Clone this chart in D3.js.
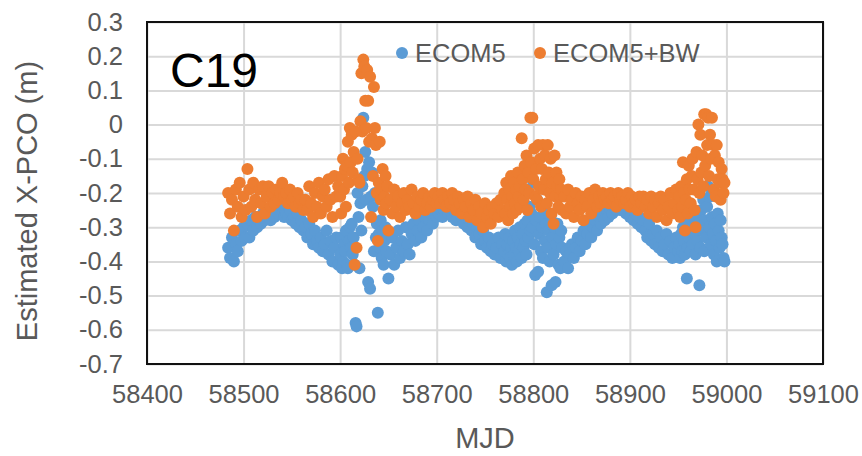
<!DOCTYPE html>
<html>
<head>
<meta charset="utf-8">
<script src="https://cdn.jsdelivr.net/npm/d3@7"></script>
<style>
  body { margin: 0; background: #fff; }
  svg { display: block; font-family: "Liberation Sans", Arial, sans-serif; }
</style>
</head>
<body>
<script>
// Chart values
var mjd = [
  // every 2 days
  58484, 58486, 58488, 58490, 58492, 58494, 58496, 58498, 58500, 58502,
  58504, 58506, 58508, 58510, 58512, 58514, 58516, 58518, 58520, 58522,
  58524, 58526, 58528, 58530, 58532, 58534, 58536, 58538, 58540, 58542,
  58544, 58546, 58548, 58550, 58552, 58554, 58556, 58558, 58560, 58562,
  58564, 58566, 58568, 58570, 58572, 58574, 58576, 58578, 58580, 58582,
  58584, 58586, 58588, 58590, 58592, 58594, 58596, 58598,
  // daily, first spike
  58600, 58601, 58602, 58603, 58604, 58605, 58606, 58607, 58608, 58609,
  58610, 58611, 58612, 58613, 58614, 58615, 58616, 58617, 58618, 58619,
  58620, 58621, 58622, 58623, 58624, 58625, 58626, 58627, 58628, 58629,
  58630, 58631, 58632, 58633, 58634, 58635, 58636, 58637, 58638, 58639,
  58640, 58641, 58642, 58643, 58644, 58645, 58646, 58647, 58648, 58649,
  58650,
  58652, 58654, 58656, 58658, 58660, 58662, 58664, 58666, 58668, 58670,
  58672, 58674, 58676, 58678, 58680, 58682, 58684, 58686, 58688, 58690,
  58692, 58694, 58696, 58698, 58700,
  58702, 58704, 58706, 58708, 58710, 58712, 58714, 58716, 58718, 58720,
  58722, 58724, 58726, 58728, 58730, 58732, 58734, 58736, 58738, 58740,
  58742, 58744, 58746, 58748, 58750, 58752, 58754, 58756, 58758, 58760,
  58762, 58764, 58766, 58768,
  // daily, second spike
  58770, 58771, 58772, 58773, 58774, 58775, 58776, 58777, 58778, 58779,
  58780, 58781, 58782, 58783, 58784, 58785, 58786, 58787, 58788, 58789,
  58790, 58791, 58792, 58793, 58794, 58795, 58796, 58797, 58798, 58799,
  58800, 58801, 58802, 58803, 58804, 58805, 58806, 58807, 58808, 58809,
  58810, 58811, 58812, 58813, 58814, 58815, 58816, 58817, 58818, 58819,
  58820, 58821, 58822, 58823, 58824, 58825, 58826, 58827, 58828, 58829,
  58830,
  58832, 58834, 58836, 58838, 58840, 58842, 58844, 58846, 58848, 58850,
  58852, 58854, 58856, 58858, 58860, 58862, 58864, 58866, 58868, 58870,
  58872, 58874, 58876, 58878, 58880, 58882, 58884, 58886, 58888, 58890,
  58892, 58894, 58896, 58898, 58900, 58902, 58904, 58906, 58908, 58910,
  58912, 58914, 58916, 58918, 58920, 58922, 58924, 58926, 58928, 58930,
  58932, 58934, 58936, 58938, 58940, 58942, 58944, 58946, 58948, 58950,
  // daily, third spike
  58951, 58952, 58953, 58954, 58955, 58956, 58957, 58958, 58959, 58960,
  58961, 58962, 58963, 58964, 58965, 58966, 58967, 58968, 58969, 58970,
  58971, 58972, 58973, 58974, 58975, 58976, 58977, 58978, 58979, 58980,
  58981, 58982, 58983, 58984, 58985, 58986, 58987, 58988, 58989, 58990,
  58991, 58992, 58993, 58994, 58995, 58996, 58997, 58998
];

var ecom5 = [
  -0.36, -0.39, -0.33, -0.40, -0.35, -0.37, -0.31, -0.34, -0.30, -0.33,
  -0.29, -0.33, -0.28, -0.31, -0.27, -0.30, -0.28, -0.29, -0.26, -0.28,
  -0.27, -0.25, -0.28, -0.26, -0.27, -0.24, -0.26, -0.25, -0.24, -0.27,
  -0.26, -0.27, -0.25, -0.28, -0.27, -0.29, -0.26, -0.30, -0.28, -0.31,
  -0.30, -0.33, -0.29, -0.32, -0.35, -0.31, -0.34, -0.36, -0.33, -0.37,
  -0.35, -0.31, -0.38, -0.34, -0.40, -0.36, -0.33, -0.41,
  -0.38, -0.33, -0.42, -0.40, -0.35, -0.37, -0.31, -0.41, -0.42, -0.34,
  -0.30, -0.36, -0.29, -0.38, -0.33, -0.41, -0.58, -0.59, -0.20, -0.27,
  -0.42, -0.23, -0.31, -0.18, 0.02, -0.15, -0.08, -0.22, -0.13, -0.46,
  -0.11, -0.48, -0.21, -0.14, -0.24, -0.37, -0.20, -0.33, -0.29, -0.55,
  -0.32, -0.36, -0.28, -0.39, -0.31, -0.41, -0.34, -0.30, -0.37, -0.33,
  -0.45,
  -0.38, -0.33, -0.41, -0.36, -0.31, -0.39, -0.34, -0.37, -0.30, -0.35,
  -0.38, -0.32, -0.29, -0.34, -0.31, -0.28, -0.33, -0.30, -0.27, -0.31,
  -0.28, -0.26, -0.29, -0.25, -0.27,
  -0.26, -0.25, -0.27, -0.25, -0.24, -0.26, -0.25, -0.27, -0.25, -0.28,
  -0.26, -0.25, -0.27, -0.29, -0.26, -0.30, -0.28, -0.31, -0.29, -0.33,
  -0.30, -0.32, -0.35, -0.31, -0.34, -0.36, -0.33, -0.37, -0.35, -0.38,
  -0.36, -0.33, -0.39, -0.35,
  -0.37, -0.32, -0.40, -0.35, -0.38, -0.33, -0.39, -0.36, -0.41, -0.34,
  -0.38, -0.31, -0.36, -0.40, -0.33, -0.37, -0.30, -0.35, -0.39, -0.32,
  -0.36, -0.29, -0.34, -0.38, -0.28, -0.33, -0.24, -0.31, -0.26, -0.30,
  -0.17, -0.35, -0.44, -0.28, -0.22, -0.43, -0.32, -0.27, -0.37, -0.30,
  -0.39, -0.25, -0.34, -0.29, -0.49, -0.36, -0.31, -0.40, -0.27, -0.47,
  -0.33, -0.38, -0.30, -0.46, -0.35, -0.29, -0.41, -0.33, -0.42, -0.31,
  -0.36,
  -0.40, -0.37, -0.42, -0.38, -0.35, -0.39, -0.36, -0.33, -0.37, -0.34,
  -0.31, -0.35, -0.32, -0.29, -0.33, -0.30, -0.28, -0.31, -0.27, -0.29,
  -0.26, -0.28, -0.25, -0.27, -0.25, -0.26, -0.24, -0.25, -0.24, -0.25,
  -0.25, -0.24, -0.26, -0.24, -0.27, -0.25, -0.28, -0.26, -0.29, -0.27,
  -0.30, -0.28, -0.31, -0.33, -0.29, -0.34, -0.32, -0.35, -0.31, -0.36,
  -0.33, -0.37, -0.35, -0.32, -0.38, -0.34, -0.39, -0.36, -0.33, -0.37,
  -0.35, -0.39, -0.32, -0.37, -0.30, -0.34, -0.38, -0.31, -0.45, -0.36,
  -0.33, -0.28, -0.37, -0.30, -0.35, -0.27, -0.32, -0.38, -0.26, -0.34,
  -0.29, -0.47, -0.36, -0.25, -0.31, -0.22, -0.37, -0.28, -0.33, -0.24,
  -0.18, -0.30, -0.21, -0.35, -0.27, -0.32, -0.38, -0.29, -0.34, -0.40,
  -0.26, -0.31, -0.36, -0.28, -0.33, -0.35, -0.39, -0.40
];

var ecom5Bw = [
  -0.20, -0.26, -0.22, -0.31, -0.19, -0.24, -0.17, -0.27, -0.21, -0.25,
  -0.13, -0.19, -0.24, -0.17, -0.22, -0.27, -0.19, -0.23, -0.18, -0.26,
  -0.21, -0.18, -0.24, -0.20, -0.23, -0.19, -0.22, -0.20, -0.17, -0.21,
  -0.20, -0.23, -0.19, -0.22, -0.21, -0.24, -0.20, -0.23, -0.22, -0.25,
  -0.22, -0.25, -0.18, -0.23, -0.27, -0.20, -0.24, -0.17, -0.26, -0.21,
  -0.19, -0.24, -0.16, -0.22, -0.27, -0.15, -0.21, -0.18,
  -0.21, -0.26, -0.15, -0.10, -0.19, -0.13, -0.24, -0.12, -0.05, -0.17,
  -0.01, -0.11, -0.03, -0.14, -0.08, -0.41, -0.02, -0.36, -0.10, -0.16,
  -0.17, 0.01, 0.15, -0.02, 0.19, 0.17, 0.07, -0.01, 0.16, 0.07,
  -0.05, 0.14, -0.27, -0.04, -0.15, 0.11, -0.01, -0.06, -0.20, -0.34,
  -0.17, -0.05, -0.22, -0.19, -0.13, -0.25, -0.21, -0.15, -0.23, -0.18,
  -0.31,
  -0.22, -0.26, -0.19, -0.24, -0.21, -0.27, -0.23, -0.20, -0.25, -0.22,
  -0.24, -0.19, -0.23, -0.26, -0.21, -0.24, -0.22, -0.20, -0.25, -0.23,
  -0.21, -0.24, -0.22, -0.20, -0.23,
  -0.21, -0.23, -0.20, -0.22, -0.24, -0.21, -0.23, -0.20, -0.22, -0.25,
  -0.21, -0.23, -0.26, -0.22, -0.24, -0.21, -0.27, -0.23, -0.25, -0.22,
  -0.28, -0.24, -0.26, -0.30, -0.23, -0.27, -0.25, -0.29, -0.24, -0.26,
  -0.23, -0.27, -0.22, -0.25,
  -0.20, -0.26, -0.17, -0.22, -0.28, -0.19, -0.24, -0.15, -0.21, -0.26,
  -0.17, -0.23, -0.19, -0.25, -0.14, -0.21, -0.18, -0.24, -0.04, -0.16,
  -0.22, -0.12, -0.19, -0.09, -0.25, -0.14, -0.20, 0.02, -0.11, 0.02,
  -0.16, -0.07, -0.21, -0.13, -0.22, -0.06, -0.18, -0.10, -0.24, -0.13,
  -0.06, -0.19, -0.09, -0.16, -0.23, -0.06, -0.14, -0.20, -0.10, -0.26,
  -0.17, -0.29, -0.09, -0.21, -0.14, -0.18, -0.24, -0.16, -0.21, -0.19,
  -0.25,
  -0.21, -0.26, -0.19, -0.24, -0.22, -0.27, -0.20, -0.23, -0.25, -0.21,
  -0.28, -0.22, -0.24, -0.20, -0.26, -0.22, -0.19, -0.24, -0.21, -0.23,
  -0.20, -0.22, -0.21, -0.23, -0.20, -0.22, -0.21, -0.24, -0.20, -0.22,
  -0.21, -0.23, -0.22, -0.20, -0.24, -0.21, -0.23, -0.22, -0.25, -0.21,
  -0.23, -0.21, -0.24, -0.22, -0.26, -0.21, -0.24, -0.22, -0.27, -0.23,
  -0.21, -0.25, -0.22, -0.28, -0.24, -0.20, -0.26, -0.23, -0.19, -0.25,
  -0.21, -0.27, -0.18, -0.24, -0.11, -0.20, -0.31, -0.22, -0.16, -0.26,
  -0.12, -0.19, -0.23, -0.15, -0.10, -0.19, -0.25, -0.30, -0.08, -0.16,
  0.00, -0.20, -0.03, -0.14, -0.09, -0.18, 0.03, -0.12, 0.03, -0.06,
  0.02, -0.15, -0.03, -0.10, 0.02, -0.06, -0.19, -0.09, -0.21, -0.06,
  -0.16, -0.11, -0.17, -0.22, -0.13, -0.16, -0.20, -0.17
];

var seriesNames = ["ECOM5", "ECOM5+BW"];
var seriesColors = ["#5B9BD5", "#ED7D31"];
var xTicks = [58400, 58500, 58600, 58700, 58800, 58900, 59000, 59100];
var yTicks = [0.3, 0.2, 0.1, 0, -0.1, -0.2, -0.3, -0.4, -0.5, -0.6, -0.7];

// Layout
var svgWidth = 862;
var svgHeight = 456;
var margin = { top: 22, right: 39, bottom: 92, left: 147 };
var width = svgWidth - margin.left - margin.right;
var height = svgHeight - margin.top - margin.bottom;

var svg = d3.select("body").append("svg")
  .attr("width", svgWidth)
  .attr("height", svgHeight);

var chart = svg.append("g")
  .attr("transform", `translate(${margin.left}, ${margin.top})`);

var xScale = d3.scaleLinear().domain([58400, 59100]).range([0, width]);
var yScale = d3.scaleLinear().domain([-0.7, 0.3]).range([height, 0]);

// x axis with vertical gridlines
var xAxis = chart.append("g")
  .attr("transform", `translate(0, ${height})`)
  .call(d3.axisBottom(xScale).tickValues(xTicks).tickSize(-height).tickPadding(21).tickFormat(d => String(d)));

// y axis with horizontal gridlines
var yAxis = chart.append("g")
  .call(d3.axisLeft(yScale).tickValues(yTicks).tickSize(-width).tickPadding(24).tickFormat(d => String(d)));

[xAxis, yAxis].forEach(function (ax) {
  ax.select(".domain").remove();
  ax.selectAll(".tick line").attr("stroke", "#d9d9d9").attr("stroke-width", 2);
  ax.selectAll(".tick text")
    .attr("fill", "#595959")
    .style("font-size", "25.5px")
    .style("font-family", "'Liberation Sans', Arial, sans-serif");
});

// points: blue first, orange on top
var blueData = mjd.map((d, i) => ({ x: d, y: ecom5[i] }));
var orangeData = mjd.map((d, i) => ({ x: d, y: ecom5Bw[i] }));

[blueData, orangeData].forEach(function (data, k) {
  chart.append("g").selectAll("circle")
    .data(data)
    .enter()
    .append("circle")
    .attr("cx", d => xScale(d.x))
    .attr("cy", d => yScale(d.y))
    .attr("r", 6)
    .attr("fill", seriesColors[k]);
});

// plot frame
chart.append("rect")
  .attr("width", width)
  .attr("height", height)
  .attr("fill", "none")
  .attr("stroke", "#111")
  .attr("stroke-width", 2);

// legend
var legend = chart.append("g");
var legendX = [255, 393];
seriesNames.forEach(function (name, k) {
  legend.append("circle")
    .attr("cx", legendX[k])
    .attr("cy", 31)
    .attr("r", 6)
    .attr("fill", seriesColors[k]);
  legend.append("text")
    .attr("x", legendX[k] + 13)
    .attr("y", 40)
    .attr("fill", "#595959")
    .style("font-size", "25.5px")
    .text(name);
});

// panel label
chart.append("text")
  .attr("x", 23)
  .attr("y", 65)
  .attr("fill", "#000")
  .style("font-size", "48px")
  .text("C19");

// axis titles
svg.append("text")
  .attr("x", margin.left + width / 2)
  .attr("y", 448)
  .attr("text-anchor", "middle")
  .attr("fill", "#595959")
  .style("font-size", "29px")
  .text("MJD");

svg.append("text")
  .attr("transform", "translate(37, 201) rotate(-90)")
  .attr("text-anchor", "middle")
  .attr("fill", "#595959")
  .style("font-size", "29px")
  .text("Estimated X-PCO (m)");
</script>
</body>
</html>
